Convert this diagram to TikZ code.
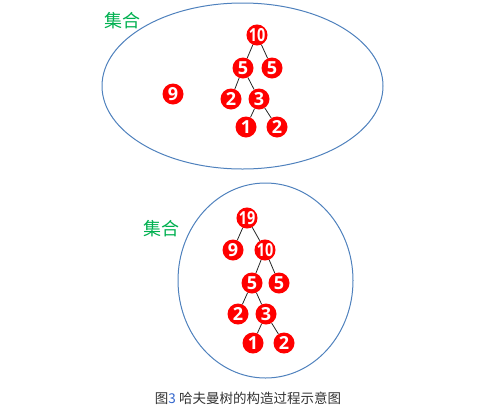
\documentclass[tikz,border=0pt]{standalone}
\usepackage{fontspec}
\setmainfont{Noto Sans CJK SC}
\newfontfamily\numfont{Open Sans}
\usepackage{tikz}
\usetikzlibrary{positioning}
\definecolor{setblue}{HTML}{4F81BD}
\definecolor{setgreen}{HTML}{00B050}
\definecolor{capgray}{HTML}{333333}
\definecolor{capblue}{HTML}{3366CC}
\tikzset{%
	weight/.style = {circle, fill=red, text=white, inner sep=0pt, minimum size=21pt, font=\numfont\bfseries\fontsize{18}{18}\selectfont},
	set/.style    = {draw=setblue, line width=1pt},
	setname/.style= {text=setgreen, font=\fontsize{18}{18}\selectfont},
	link/.style   = {draw=black!85, line width=0.8pt},
}
\begin{document}
\begin{tikzpicture}[x=1pt,y=-1pt]
	\useasboundingbox (0,0) rectangle (500,413);
	
	% first set: 9 and the tree of 10
	\draw[set] (242.5,86) ellipse [x radius=140.5, y radius=83];
	\node[setname] (name1) at (122,21) {集合};
	\node[weight] (t10) at (257,35) {\scalebox{0.8}[1]{10}};
	\node[weight] (t5a) at (243,68) {5};
	\node[weight] (t5b) at (272,68) {5};
	\node[weight] (t9) at (173,94) {9};
	\node[weight] (t2a) at (231,99) {2};
	\node[weight] (t3) at (259,99) {3};
	\node[weight] (t1) at (246,127) {1};
	\node[weight] (t2b) at (277,127) {2};
	\foreach \a/\b in {t10/t5a,t10/t5b,t5a/t2a,t5a/t3,t3/t1,t3/t2b} \draw[link] (\a) -- (\b);
	
	% second set: the tree of 19
	\draw[set] (265.5,280.5) ellipse [x radius=87.5, y radius=97.5];
	\node[setname] (name2) at (161,229) {集合};
	\node[weight] (u19) at (247,218) {\scalebox{0.8}[1]{19}};
	\node[weight] (u9) at (233,250) {9};
	\node[weight] (u10) at (265,250) {\scalebox{0.8}[1]{10}};
	\node[weight] (u5a) at (252,283) {5};
	\node[weight] (u5b) at (279,283) {5};
	\node[weight] (u2a) at (238,314) {2};
	\node[weight] (u3) at (266,314) {3};
	\node[weight] (u1) at (253,343) {1};
	\node[weight] (u2b) at (284,343) {2};
	\foreach \a/\b in {u19/u9,u19/u10,u10/u5a,u10/u5b,u5a/u2a,u5a/u3,u3/u1,u3/u2b} \draw[link] (\a) -- (\b);
	
	\node[text=capgray, font=\fontsize{13.5}{13.5}\selectfont] (caption) at (248,398) {图{\color{capblue}3} 哈夫曼树的构造过程示意图};
\end{tikzpicture}
\end{document}
